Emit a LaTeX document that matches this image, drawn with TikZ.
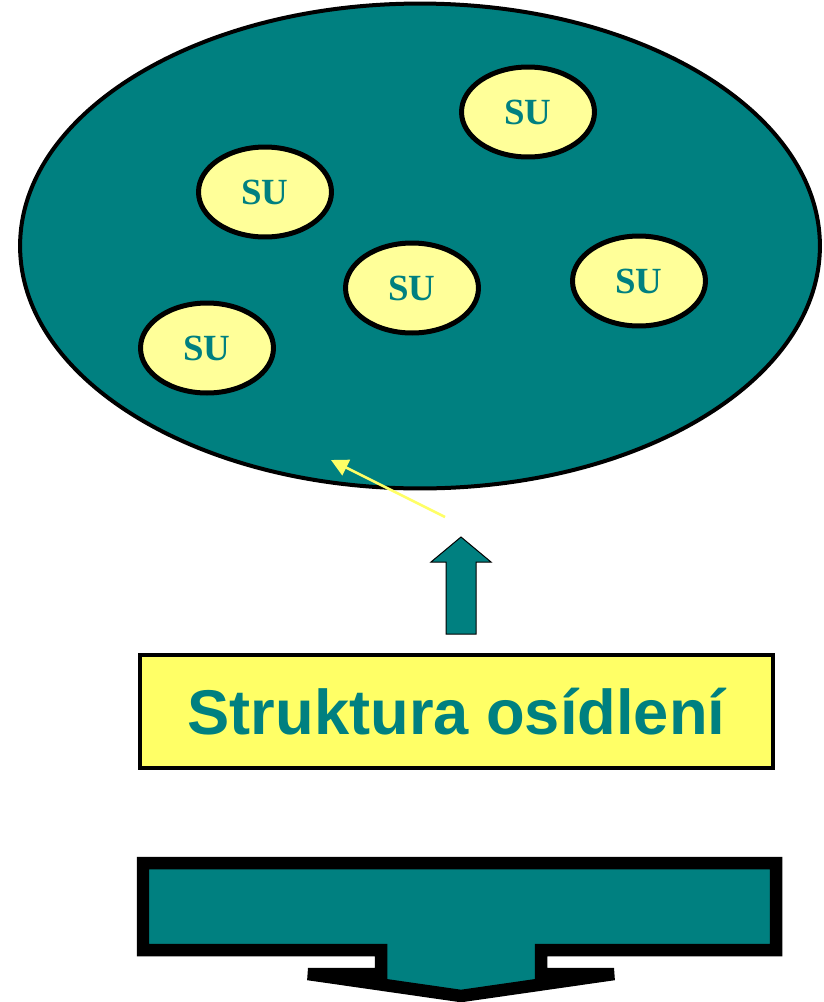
\documentclass[tikz,border=0pt]{standalone}
\usepackage{fontspec}
\setmainfont{Liberation Serif}
\newfontfamily\arialfont{Liberation Sans}
\usetikzlibrary{shapes.geometric,arrows.meta}
\definecolor{teal}{HTML}{008080}
\definecolor{paleyellow}{HTML}{FFFF99}
\definecolor{boxyellow}{HTML}{FFFF66}
\begin{document}
\begin{tikzpicture}[x=0.02cm,y=-0.02cm]
        \tikzset{
            region/.style={
                    ellipse,
                    draw=black,
                    fill=teal,
                    line width=0.08cm,
                    minimum width=16cm,
                    minimum height=9.7cm,
                    inner sep=0pt,
                },
            unit/.style={
                    ellipse,
                    draw=black,
                    fill=paleyellow,
                    line width=0.1cm,
                    minimum width=2.66cm,
                    minimum height=1.8cm,
                    inner sep=0pt,
                    text=teal,
                    font=\fontsize{21}{24}\selectfont\bfseries,
                },
            title/.style={
                    rectangle,
                    draw=black,
                    fill=boxyellow,
                    line width=0.08cm,
                    minimum width=12.66cm,
                    minimum height=2.26cm,
                    text=teal,
                    font=\arialfont\fontsize{36}{40}\selectfont\bfseries,
                },
            pointer/.style={-{Triangle[width=0.34cm,length=0.34cm]}, draw=boxyellow, line width=0.05cm},
            block/.style={draw=black, fill=teal},
        }
        \clip (0, 0) rectangle (823, 1002);
        % \draw (0, 0) grid (823, 1002);
        \node[region] (area) at (420, 246) {};
        \node[unit] (su1) at (528, 112) {SU};
        \node[unit] (su2) at (265, 192) {SU};
        \node[unit] (su3) at (412, 288) {SU};
        \node[unit] (su4) at (639, 281) {SU};
        \node[unit] (su5) at (207, 348) {SU};
        \node[title] (struct) at (456.5, 711.5) {Struktura osídlení};
        \coordinate (tail) at (445, 517);
        \coordinate (head) at (331, 460);
        \draw[pointer] (tail) -- (head);
        \draw[block, line width=0.02cm] (446, 634) -- (446, 562) -- (431, 562) -- (461, 537)
            -- (491, 562) -- (476, 562) -- (476, 634) -- cycle;
        \draw[block, line width=0.25cm] (143, 863) -- (776, 863) -- (776, 950)
            -- (541, 950) -- (541, 974) -- (614, 974) -- (461, 996) -- (308, 974)
            -- (381, 974) -- (381, 950) -- (143, 950) -- cycle;
    \end{tikzpicture}
\end{document}
